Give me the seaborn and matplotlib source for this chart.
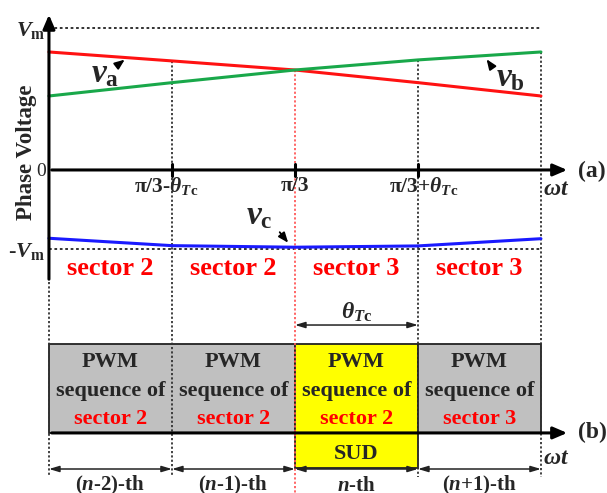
import matplotlib
matplotlib.use("Agg")
import matplotlib.pyplot as plt
from matplotlib.patches import Rectangle
import pandas as pd
import seaborn as sns

# electrical angle in units of theta_Tc, measured from pi/3
theta = [-2, -1, 0, 1, 2]
v_a = [0.831, 0.768, 0.704, 0.615, 0.521]
v_b = [0.521, 0.615, 0.704, 0.775, 0.831]
v_c = [-0.481, -0.533, -0.544, -0.535, -0.484]
v_max = 1.0
v_min = -0.556

tick_pos = [-1, 0, 1]
tick_labels = [r"π/3-$\theta_{T\mathrm{c}}$", "π/3", r"π/3+$\theta_{T\mathrm{c}}$"]
sector_labels = ["sector 2", "sector 2", "sector 3", "sector 3"]
pwm_sectors = ["sector 2", "sector 2", "sector 2", "sector 3"]
period_labels = [r"($n$-2)-th", r"($n$-1)-th", r"$n$-th", r"($n$+1)-th"]

sns.set_theme(style="white")
plt.rcParams["font.family"] = ["Liberation Serif", "DejaVu Serif"]
plt.rcParams["font.weight"] = "bold"
plt.rcParams["mathtext.fontset"] = "custom"
plt.rcParams["mathtext.it"] = "Liberation Serif:italic:bold"
plt.rcParams["mathtext.rm"] = "Liberation Serif:bold"
plt.rcParams["mathtext.bf"] = "Liberation Serif:bold"

RED, GREEN, BLUE = "#ff1212", "#19a84a", "#1a1aff"
GRAY, YELLOW = "#c0c0c0", "#ffff00"

fig = plt.figure(figsize=(6.07, 4.93), dpi=100)
ax = fig.add_axes([0, 0, 1, 1])
ax.set_xlim(-2.398, 2.537)
ax.set_ylim(-2.275, 1.197)
ax.axis("off")

# phase voltages
df = pd.DataFrame({
    "theta": theta * 3,
    "v": v_a + v_b + v_c,
    "phase": ["a"] * 5 + ["b"] * 5 + ["c"] * 5,
})
sns.lineplot(data=df, x="theta", y="v", hue="phase",
             palette={"a": RED, "b": GREEN, "c": BLUE},
             legend=False, lw=2.2, sort=False, ax=ax, zorder=4)

x0, x1, x_tip = theta[0], theta[-1], 2.236
axis_kw = dict(arrowstyle="-|>,head_length=0.7,head_width=0.3", color="black", lw=2.2)

# voltage axis and time axis
ax.annotate("", xy=(x0, 1.113), xytext=(x0, -0.789), arrowprops=axis_kw, zorder=5)
ax.annotate("", xy=(x_tip, 0), xytext=(x0, 0), arrowprops=axis_kw, zorder=5)
for t in tick_pos:
    ax.plot([t, t], [-0.045, 0.045], color="black", lw=2.2, zorder=5)

# +/-Vm levels
ax.plot([x0, x1], [v_max, v_max], color="#222", lw=1.3, ls=(0, (1.5, 1.5)), zorder=2)
ax.plot([x0, x1], [v_min, v_min], color="#222", lw=1.3, ls=(0, (1.5, 1.5)), zorder=2)

# PWM sequence boxes
box_top, box_bot, sud_bot = -1.225, -1.852, -2.099
ax.add_patch(Rectangle((x0, box_bot), 2, box_top - box_bot, fc=GRAY, ec="#222", lw=1.3, zorder=1))
ax.add_patch(Rectangle((0, sud_bot), 1, box_top - sud_bot, fc=YELLOW, ec="#222", lw=1.3, zorder=1))
ax.add_patch(Rectangle((1, box_bot), 1, box_top - box_bot, fc=GRAY, ec="#222", lw=1.3, zorder=1))
ax.annotate("", xy=(x_tip, box_bot), xytext=(x0, box_bot), arrowprops=axis_kw, zorder=5)

# vertical guides
dot = (0, (1.2, 1.2))
ax.plot([x0, x0], [-0.789, -2.162], color="#333", lw=1.3, ls=dot, zorder=3)
ax.plot([-1, -1], [v_a[1], -2.162], color="#333", lw=1.3, ls=dot, zorder=3)
ax.plot([0, 0], [v_a[2], -2.275], color="#ff5a5a", lw=1.3, ls=dot, zorder=3)
ax.plot([1, 1], [v_b[3], -2.162], color="#333", lw=1.3, ls=dot, zorder=3)
ax.plot([x1, x1], [v_b[4], -2.162], color="#333", lw=1.3, ls=dot, zorder=3)

# axis text
ax.text(-2.185, 0.127, "Phase Voltage", rotation=90, ha="center", va="center", fontsize=16.5)
ax.text(-2.146, 0.985, r"$V_{\mathrm{m}}$", ha="center", va="center", fontsize=16)
ax.text(-2.02, -0.01, "0", ha="right", va="center", fontsize=14, fontweight="normal")
ax.text(-2.18, -0.575, r"-$V_{\mathrm{m}}$", ha="center", va="center", fontsize=16)
tick_dx = [-0.05, 0, 0.05]
for t, lab, dx in zip(tick_pos, tick_labels, tick_dx):
    ax.text(t + dx, -0.11, lab, ha="center", va="center", fontsize=15.5)
ax.text(2.122, -0.14, r"$\omega t$", ha="center", va="center", fontsize=17)
ax.text(2.122, -2.03, r"$\omega t$", ha="center", va="center", fontsize=17)
ax.text(2.415, -0.01, "(a)", ha="center", va="center", fontsize=17)
ax.text(2.415, -1.852, "(b)", ha="center", va="center", fontsize=17)

# curve labels
lab_arrow = dict(arrowstyle="-|>,head_length=0.5,head_width=0.2", color="black", lw=1.3)
ax.text(-1.66, 0.676, r"$v_{\mathrm{a}}$", ha="left", va="center", fontsize=24)
ax.annotate("", xy=(-1.366, 0.789), xytext=(-1.463, 0.725), arrowprops=lab_arrow)
ax.text(1.634, 0.648, r"$v_{\mathrm{b}}$", ha="left", va="center", fontsize=24)
ax.annotate("", xy=(1.545, 0.796), xytext=(1.602, 0.725), arrowprops=lab_arrow)
ax.text(-0.398, -0.324, r"$v_{\mathrm{c}}$", ha="left", va="center", fontsize=24)
ax.annotate("", xy=(-0.041, -0.528), xytext=(-0.138, -0.423), arrowprops=lab_arrow)

# sectors and PWM sequences
centers = [-1.5, -0.5, 0.5, 1.5]
for c, lab in zip(centers, sector_labels):
    ax.text(c, -0.697, lab, color="red", ha="center", va="center", fontsize=19)
for c, lab in zip(centers, pwm_sectors):
    ax.text(c, -1.352, "PWM", ha="center", va="center", fontsize=16, zorder=6)
    ax.text(c, -1.556, "sequence of", ha="center", va="center", fontsize=16, zorder=6)
    ax.text(c, -1.754, lab, color="red", ha="center", va="center", fontsize=16, zorder=6)
ax.text(0.5, -2.0, "SUD", ha="center", va="center", fontsize=16, zorder=6)

# theta_Tc span
span_kw = dict(arrowstyle="<|-|>,head_length=0.5,head_width=0.15", color="#222", lw=1.1,
               shrinkA=0, shrinkB=0)
ax.annotate("", xy=(1, -1.092), xytext=(0, -1.092), arrowprops=span_kw)
ax.text(0.5, -1.0, r"$\theta_{T\mathrm{c}}$", ha="center", va="center", fontsize=17)

# control periods
for i, lab in enumerate(period_labels):
    ax.annotate("", xy=(theta[i + 1], -2.106), xytext=(theta[i], -2.106), arrowprops=span_kw)
    ax.text(centers[i], -2.225, lab, ha="center", va="center", fontsize=15)

fig.savefig("out.png", dpi=100)
